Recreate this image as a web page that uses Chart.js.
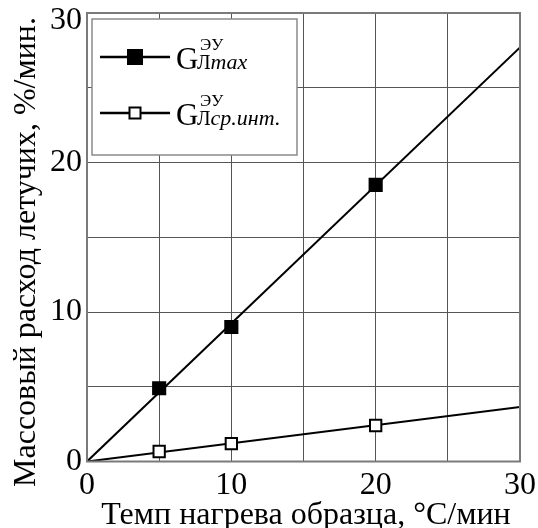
<!DOCTYPE html>
<html>
<head>
<meta charset="utf-8">
<script src="https://cdn.jsdelivr.net/npm/chart.js@4.4.1/dist/chart.umd.min.js"></script>
<style>
  html, body { margin: 0; padding: 0; background: #fff; }
  #wrap { width: 538px; height: 528px; }
</style>
</head>
<body>
<div id="wrap"><canvas id="c" width="538" height="528"></canvas></div>
<script>
// Heating rate, °C/min
const heatingRates = [5, 10, 20];
// Peak volatile release rate, %/min
const maxRate = [4.9, 9.0, 18.5];
// Mean (integral) volatile release rate, %/min
const avgRate = [0.67, 1.19, 2.41];
// Straight-line fits through the origin
const fitX = [0, 30];
const maxFit = [0, 27.7];
const avgFit = [0, 3.64];
// Labelled ticks (grid every 5)
const xTickLabels = [0, 10, 20, 30];
const yTickLabels = [0, 10, 20, 30];
const xTitle = 'Темп нагрева образца, °C/мин';
const yTitle = 'Массовый расход летучих, %/мин.';
const legendItems = [
  { base: 'G', sup: 'ЭУ', sub: 'Л', subItalic: 'max', fill: '#000000' },
  { base: 'G', sup: 'ЭУ', sub: 'Л', subItalic: 'ср.инт.', fill: '#ffffff' }
];

const SERIF = '"Liberation Serif", "Times New Roman", serif';
const Y_MAX = 30;

const toPoints = (xs, ys) => xs.map((x, i) => ({ x: x, y: ys[i] }));

// Axis titles, frame and the boxed legend in the upper-left corner
const decorations = {
  id: 'decorations',
  afterDraw(chart) {
    const ctx = chart.ctx;
    const a = chart.chartArea;
    ctx.save();
    // outer frame
    ctx.strokeStyle = '#7a7a7a';
    ctx.lineWidth = 2;
    ctx.strokeRect(a.left, a.top, a.right - a.left, a.bottom - a.top);

    // axis titles
    ctx.fillStyle = '#000';
    ctx.font = '32px ' + SERIF;
    ctx.textAlign = 'center';
    ctx.textBaseline = 'alphabetic';
    ctx.fillText(xTitle, 306, 524);
    ctx.save();
    ctx.translate(35, 252);
    ctx.rotate(-Math.PI / 2);
    ctx.fillText(yTitle, 0, 0);
    ctx.restore();

    // legend box
    const bx = a.left + 5, by = a.top + 6, bw = 205, bh = 136;
    ctx.fillStyle = '#fff';
    ctx.fillRect(bx, by, bw, bh);
    ctx.strokeStyle = '#8a8a8a';
    ctx.lineWidth = 1.5;
    ctx.strokeRect(bx, by, bw, bh);

    const rows = [57, 113];
    legendItems.forEach((it, i) => {
      const y = rows[i];
      ctx.strokeStyle = '#000';
      ctx.lineWidth = 2.5;
      ctx.beginPath();
      ctx.moveTo(100, y);
      ctx.lineTo(170, y);
      ctx.stroke();
      const s = it.fill === '#000000' ? 14 : 11;
      ctx.fillStyle = it.fill;
      ctx.fillRect(135 - s / 2, y - s / 2, s, s);
      ctx.lineWidth = 2;
      ctx.strokeRect(135 - s / 2, y - s / 2, s, s);

      const base = y + 11.5;
      ctx.fillStyle = '#000';
      ctx.textAlign = 'left';
      ctx.font = '31px ' + SERIF;
      ctx.fillText(it.base, 176, base);
      ctx.font = '17px ' + SERIF;
      ctx.fillText(it.sup, 200, base - 19);
      ctx.font = '20px ' + SERIF;
      ctx.fillText(it.sub, 197, base);
      const w = ctx.measureText(it.sub).width;
      ctx.font = 'italic 22px ' + SERIF;
      ctx.fillText(it.subItalic, 197 + w, base);
    });
    ctx.restore();
  }
};

const zeroPad = (scale) => {
  scale.paddingTop = 0; scale.paddingBottom = 0;
  scale.paddingLeft = 0; scale.paddingRight = 0;
};

new Chart(document.getElementById('c'), {
  type: 'scatter',
  data: {
    datasets: [
      {
        label: 'max',
        data: toPoints(heatingRates, maxRate),
        pointStyle: 'rect',
        pointRadius: 10,
        pointBackgroundColor: '#000',
        pointBorderColor: '#000',
        pointBorderWidth: 0,
        showLine: false,
        order: 0
      },
      {
        label: 'avg',
        data: toPoints(heatingRates, avgRate),
        pointStyle: 'rect',
        pointRadius: 8,
        pointBackgroundColor: '#fff',
        pointBorderColor: '#000',
        pointBorderWidth: 2,
        showLine: false,
        order: 0
      },
      {
        label: 'max fit',
        data: toPoints(fitX, maxFit),
        showLine: true,
        borderColor: '#000',
        borderWidth: 2,
        pointRadius: 0,
        order: 1
      },
      {
        label: 'avg fit',
        data: toPoints(fitX, avgFit),
        showLine: true,
        borderColor: '#000',
        borderWidth: 2,
        pointRadius: 0,
        order: 1
      }
    ]
  },
  options: {
    responsive: false,
    animation: false,
    devicePixelRatio: 1,
    layout: { padding: { top: 13, right: 18, left: 0, bottom: 0 } },
    plugins: { legend: { display: false }, tooltip: { enabled: false } },
    scales: {
      x: {
        type: 'linear',
        min: 0, max: 30,
        afterFit(scale) { scale.height = 66.5; zeroPad(scale); },
        ticks: {
          stepSize: 5,
          autoSkip: false,
          maxRotation: 0,
          padding: 8,
          color: '#000',
          font: { family: SERIF, size: 32, lineHeight: 1 },
          callback: (v) => xTickLabels.includes(v) ? String(v) : ''
        },
        grid: { color: '#555555', lineWidth: 1, drawTicks: false },
        border: { display: false }
      },
      y: {
        type: 'linear',
        min: 0, max: Y_MAX,
        afterFit(scale) { scale.width = 87; zeroPad(scale); },
        ticks: {
          stepSize: 5,
          autoSkip: false,
          padding: 5,
          color: '#000',
          // the top label sits a little below its grid line so it stays on the canvas
          font: (c) => ({ family: SERIF, size: 32, lineHeight: (c.tick && c.tick.value === Y_MAX) ? 0.5 : 1 }),
          callback: (v) => yTickLabels.includes(v) ? (v === Y_MAX ? ['', String(v)] : String(v)) : ''
        },
        grid: { color: '#555555', lineWidth: 1, drawTicks: false },
        border: { display: false }
      }
    }
  },
  plugins: [decorations]
});
</script>
</body>
</html>
